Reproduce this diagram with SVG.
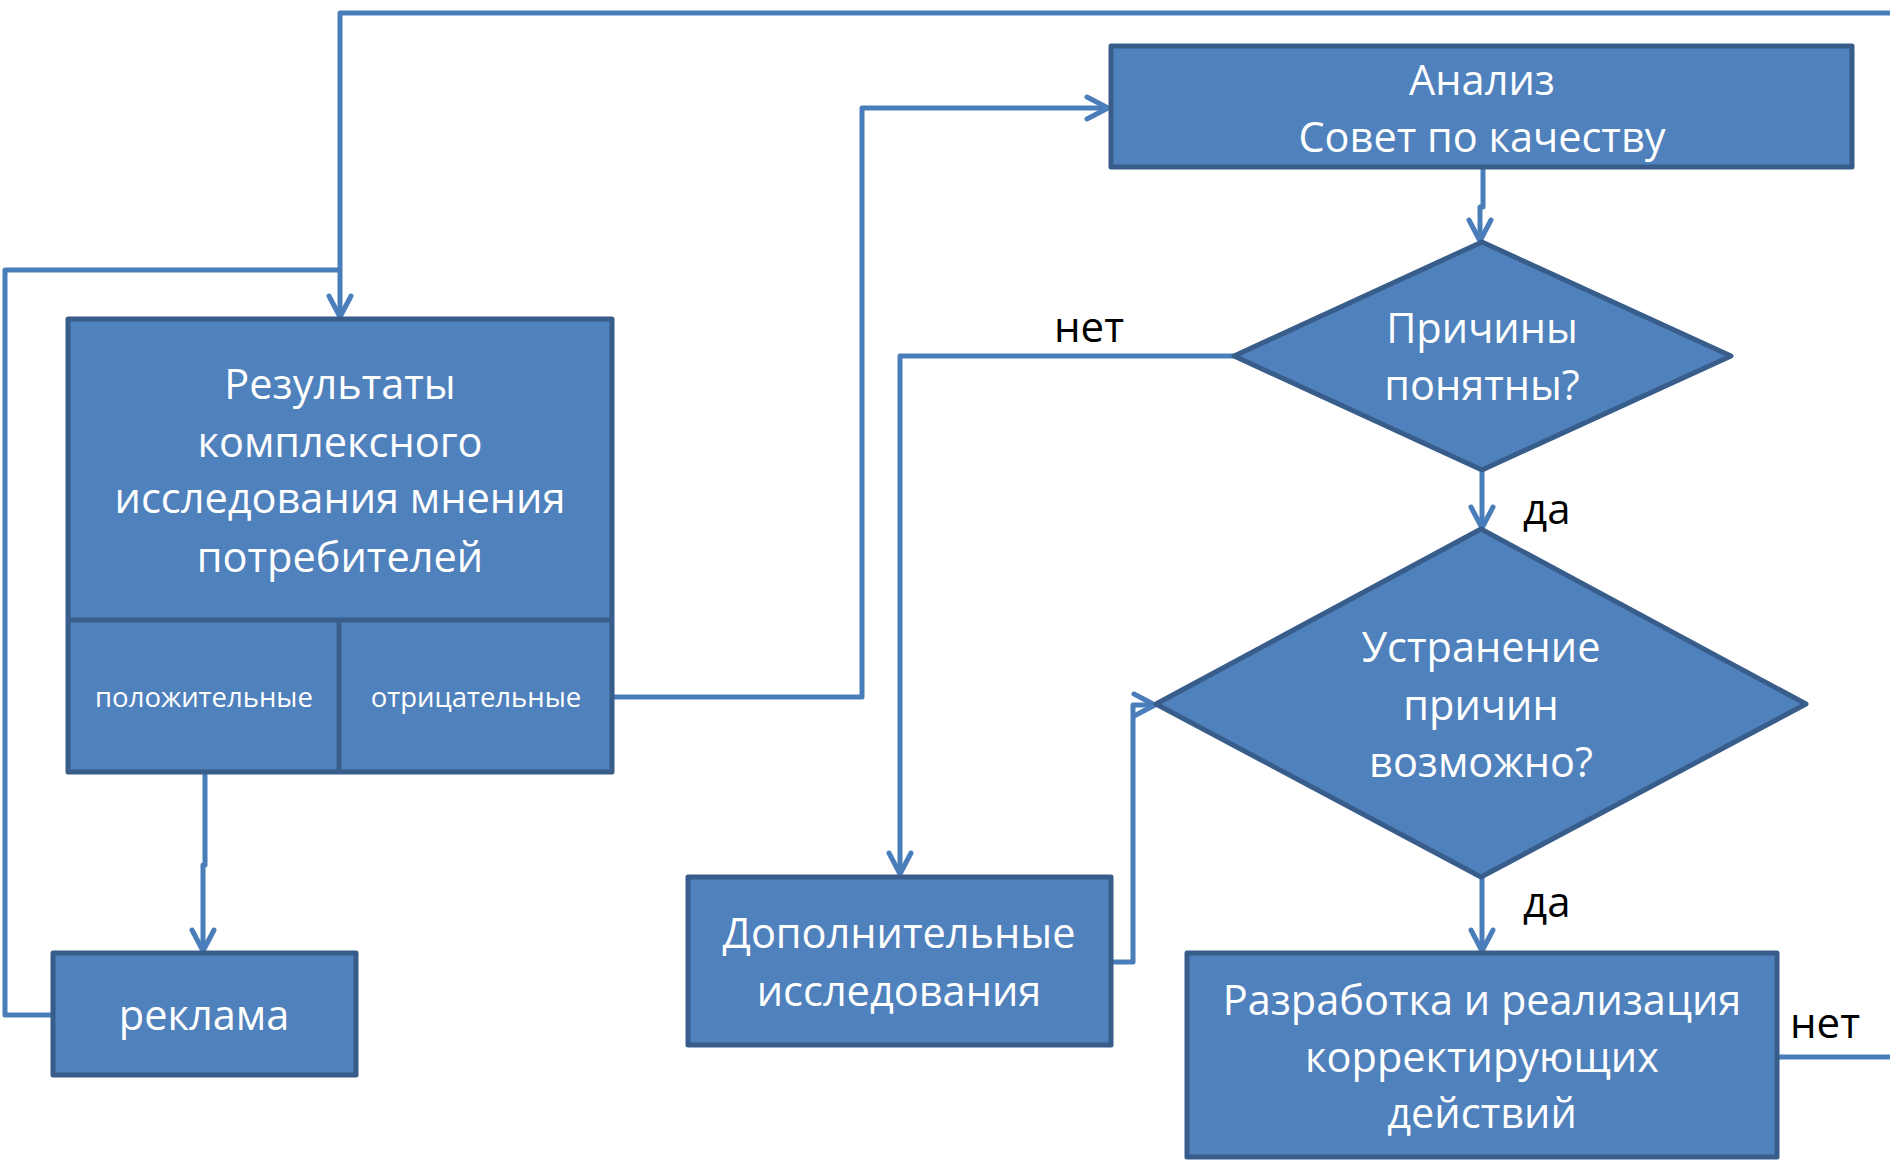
<svg xmlns="http://www.w3.org/2000/svg" width="1890" height="1160" viewBox="0 0 1890 1160">
<style>
.box{fill:#4F81BD;stroke:#385D8A;stroke-width:5;stroke-linejoin:round}
.t{font-family:"Open Sans","Noto Sans","Liberation Sans",sans-serif;font-size:41.5px;fill:#FFFFFF;text-anchor:middle}
.s{font-family:"Open Sans","Noto Sans","Liberation Sans",sans-serif;font-size:27.5px;fill:#FFFFFF;text-anchor:middle}
.l{font-family:"Open Sans","Noto Sans","Liberation Sans",sans-serif;font-size:42px;fill:#000000}
.c{fill:none;stroke:#4A7EBB;stroke-width:5;stroke-linejoin:round}
</style>
<defs>
<marker id="arr" markerUnits="userSpaceOnUse" markerWidth="40" markerHeight="40" viewBox="-30 -20 40 40" refX="0" refY="0" orient="auto">
<path d="M-21,-11 L0,0 L-21,11" fill="none" stroke="#4A7EBB" stroke-width="5" stroke-linecap="round" stroke-linejoin="round"/>
</marker>
</defs>
<rect width="1890" height="1160" fill="#FFFFFF"/>
<g id="connectors">
<path class="c" d="M1890,13 H340 V317" marker-end="url(#arr)"/>
<path class="c" d="M53,1015 H5 V270 H340"/>
<path class="c" d="M205,772 V865 H203 V951" marker-end="url(#arr)"/>
<path class="c" d="M612,697 H862 V108 H1108" marker-end="url(#arr)"/>
<path class="c" d="M1483,167 V207 H1480 V241" marker-end="url(#arr)"/>
<path class="c" d="M1234,356 H900 V874" marker-end="url(#arr)"/>
<path class="c" d="M1482,470 V528" marker-end="url(#arr)"/>
<path class="c" d="M1111,962 H1133 V705 H1155" marker-end="url(#arr)"/>
<path class="c" d="M1482,877 V951" marker-end="url(#arr)"/>
<path class="c" d="M1777,1057 H1890"/>
</g>
<g id="results">
<rect class="box" x="68" y="319" width="544" height="453"/>
<line x1="68" y1="620" x2="612" y2="620" stroke="#385D8A" stroke-width="5"/>
<line x1="339" y1="620" x2="339" y2="772" stroke="#385D8A" stroke-width="5"/>
<text class="t" x="340" y="399">Результаты</text>
<text class="t" x="340" y="457">комплексного</text>
<text class="t" x="340" y="513">исследования мнения</text>
<text class="t" x="340" y="572">потребителей</text>
</g>
<g id="positive"><text class="s" x="204" y="707">положительные</text></g>
<g id="negative"><text class="s" x="476" y="707">отрицательные</text></g>
<g id="reklama">
<rect class="box" x="53" y="953" width="303" height="122"/>
<text class="t" x="204" y="1030">реклама</text>
</g>
<g id="analysis">
<rect class="box" x="1111" y="46" width="741" height="121"/>
<text class="t" x="1482" y="95">Анализ</text>
<text class="t" x="1482" y="152">Совет по качеству</text>
</g>
<g id="decision1">
<polygon class="box" points="1482,242 1731,356 1482,470 1234,356"/>
<text class="t" x="1482" y="343">Причины</text>
<text class="t" x="1482" y="400">понятны?</text>
</g>
<g id="decision2">
<polygon class="box" points="1481,529 1806,704 1481,877 1156,704"/>
<text class="t" x="1481" y="662">Устранение</text>
<text class="t" x="1481" y="720">причин</text>
<text class="t" x="1481" y="777">возможно?</text>
</g>
<g id="additional">
<rect class="box" x="688" y="877" width="423" height="168"/>
<text class="t" x="899" y="948">Дополнительные</text>
<text class="t" x="899" y="1006">исследования</text>
</g>
<g id="corrective">
<rect class="box" x="1187" y="953" width="590" height="204"/>
<text class="t" x="1482" y="1015">Разработка и реализация</text>
<text class="t" x="1482" y="1072">корректирующих</text>
<text class="t" x="1482" y="1128">действий</text>
</g>
<g id="labels">
<text class="l" x="1089" y="342" text-anchor="middle">нет</text>
<text class="l" x="1523" y="524">да</text>
<text class="l" x="1523" y="917">да</text>
<text class="l" x="1790" y="1038">нет</text>
</g>
</svg>
